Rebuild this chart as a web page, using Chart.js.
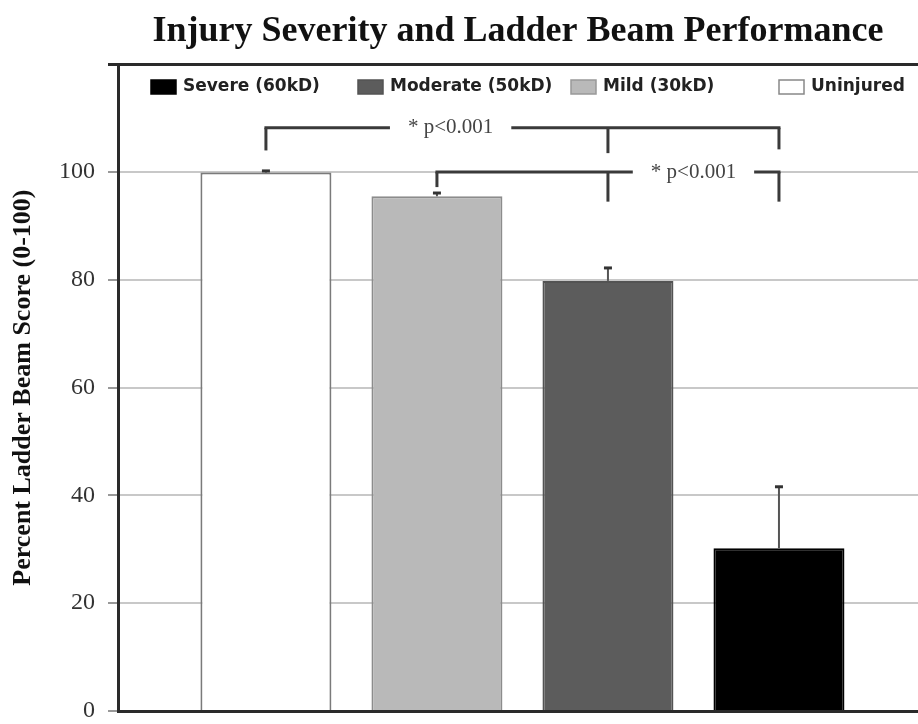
<!DOCTYPE html>
<html>
<head>
<meta charset="utf-8">
<script src="https://cdn.jsdelivr.net/npm/chart.js@4/dist/chart.umd.min.js"></script>
<style>
html, body { margin: 0; padding: 0; background: #fff; }
#contenedor { width: 918px; height: 724px; }
</style>
</head>
<body>
<div id="contenedor"><canvas id="chartBeam"></canvas></div>
<script>
// datos
const grupos = ['Uninjured', 'Mild (30kD)', 'Moderate (50kD)', 'Severe (60kD)'];
const puntajes = [99.9, 95.5, 79.8, 30.2];
const errores = [0.3, 0.6, 2.4, 11.4];
const colores = ['#ffffff', '#b9b9b9', '#5c5c5c', '#000000'];
const bordes = ['#7a7a7a', '#8c8c8c', '#535353', '#000000'];
const ordenLeyenda = [3, 2, 1, 0];
const yMax = 120;
const yPaso = 20;

// llaves de significancia (en unidades del eje)
const llaveDesde = [1, 2];
const llaveHasta = [4, 4];
const llaveMedio = [3, 3];
const llaveAltura = [108.2, 100];
const llaveFinales = [[104, 103.5, 104.2], [97.2, 94.5, 94.5]];
const llaveTextoX = [2.08, 3.5];
const llaveTexto = ['* p<0.001', '* p<0.001'];

const posiciones = grupos.map((g, i) => i + 1);

const barrasError = {
    id: 'barrasError',
    afterDatasetsDraw(chart) {
        const { ctx, scales: { x, y } } = chart;
        ctx.save();
        puntajes.forEach((v, i) => {
            const px = x.getPixelForValue(posiciones[i]);
            const y0 = y.getPixelForValue(v);
            const y1 = y.getPixelForValue(v + errores[i]);
            ctx.strokeStyle = '#555';
            ctx.lineWidth = 2;
            ctx.beginPath();
            ctx.moveTo(px, y0);
            ctx.lineTo(px, y1);
            ctx.stroke();
            ctx.strokeStyle = '#333';
            ctx.lineWidth = 3;
            ctx.beginPath();
            ctx.moveTo(px - 4, y1);
            ctx.lineTo(px + 4, y1);
            ctx.stroke();
        });
        ctx.restore();
    }
};

const llaves = {
    id: 'llaves',
    afterDatasetsDraw(chart) {
        const { ctx, scales: { x, y } } = chart;
        ctx.save();
        ctx.strokeStyle = '#3a3a3a';
        ctx.lineWidth = 3;
        ctx.lineCap = 'butt';
        llaveDesde.forEach((d, i) => {
            const yy = y.getPixelForValue(llaveAltura[i]);
            const xs = [llaveDesde[i], llaveMedio[i], llaveHasta[i]];
            ctx.beginPath();
            ctx.moveTo(x.getPixelForValue(llaveDesde[i]) - 1.5, yy);
            ctx.lineTo(x.getPixelForValue(llaveHasta[i]) + 1.5, yy);
            ctx.stroke();
            xs.forEach((xv, k) => {
                const px = x.getPixelForValue(xv);
                ctx.beginPath();
                ctx.moveTo(px, yy);
                ctx.lineTo(px, y.getPixelForValue(llaveFinales[i][k]));
                ctx.stroke();
            });
            // texto con fondo blanco
            ctx.font = '21px "Liberation Serif"';
            const w = ctx.measureText(llaveTexto[i]).width;
            const tx = x.getPixelForValue(llaveTextoX[i]);
            ctx.fillStyle = '#fff';
            ctx.fillRect(tx - w / 2 - 18, yy - 10, w + 36, 20);
            ctx.fillStyle = '#444';
            ctx.textAlign = 'center';
            ctx.textBaseline = 'middle';
            ctx.fillText(llaveTexto[i], tx, yy);
        });
        ctx.restore();
    }
};

const leyenda = {
    id: 'leyenda',
    afterDraw(chart) {
        const { ctx } = chart;
        const xs = [151, 358, 571, 779];
        const yc = 87;
        ctx.save();
        ctx.font = 'bold 17px "DejaVu Sans"';
        ctx.textBaseline = 'middle';
        ordenLeyenda.forEach((idx, k) => {
            ctx.fillStyle = colores[idx];
            ctx.fillRect(xs[k], yc - 7, 25, 14);
            ctx.strokeStyle = idx === 0 ? '#888' : (idx === 1 ? '#999' : bordes[idx]);
            ctx.lineWidth = 1.5;
            ctx.strokeRect(xs[k], yc - 7, 25, 14);
            ctx.fillStyle = '#222';
            ctx.fillText(grupos[idx], xs[k] + 32, yc);
        });
        ctx.restore();
    }
};

const ctx = document.getElementById('chartBeam').getContext('2d');
new Chart(ctx, {
    type: 'bar',
    data: {
        datasets: [{
            label: 'Percent Ladder Beam Score',
            data: posiciones.map((p, i) => ({ x: p, y: puntajes[i] })),
            backgroundColor: colores,
            borderColor: bordes,
            borderWidth: 2,
            categoryPercentage: 1,
            barPercentage: 0.766
        }]
    },
    options: {
        responsive: true,
        maintainAspectRatio: false,
        animation: false,
        layout: { padding: { left: 0, right: 0, top: 0, bottom: 0 } },
        plugins: {
            legend: { display: false },
            tooltip: { enabled: false },
            title: {
                display: true,
                text: 'Injury Severity and Ladder Beam Performance',
                fullSize: false,
                color: '#111',
                font: { family: 'Liberation Serif', size: 36, weight: 'bold' },
                padding: { top: 10, bottom: 11 }
            }
        },
        scales: {
            x: {
                type: 'linear',
                offset: false,
                min: 0.135,
                max: 4.813,
                afterBuildTicks: s => { s.ticks = posiciones.map(v => ({ value: v })); },
                ticks: { display: false },
                grid: { display: false, drawTicks: false },
                border: { color: '#2a2a2a', width: 3 },
                afterFit: s => { s.height = 13; }
            },
            y: {
                min: 0,
                max: yMax,
                ticks: {
                    stepSize: yPaso,
                    color: '#333',
                    padding: 13,
                    font: { family: 'Liberation Serif', size: 24 },
                    callback: v => (v === yMax ? '' : v)
                },
                grid: {
                    color: c => (c.tick && c.tick.value === yMax ? '#2a2a2a' : '#c8c8c8'),
                    lineWidth: c => (c.tick && c.tick.value === yMax ? 3 : 2),
                    tickColor: c => (c.tick && c.tick.value === yMax ? '#2a2a2a' : '#999'),
                    tickLength: 10
                },
                border: { color: '#2a2a2a', width: 3 },
                title: {
                    display: true,
                    text: 'Percent Ladder Beam Score (0-100)',
                    color: '#111',
                    font: { family: 'Liberation Serif', size: 26, weight: 'bold' },
                    padding: { top: 8, bottom: 0 }
                },
                afterFit: s => {
                    s.width = 118;
                    s.paddingTop = 0;
                    s.paddingBottom = 0;
                }
            }
        }
    },
    plugins: [barrasError, llaves, leyenda]
});
</script>
</body>
</html>
